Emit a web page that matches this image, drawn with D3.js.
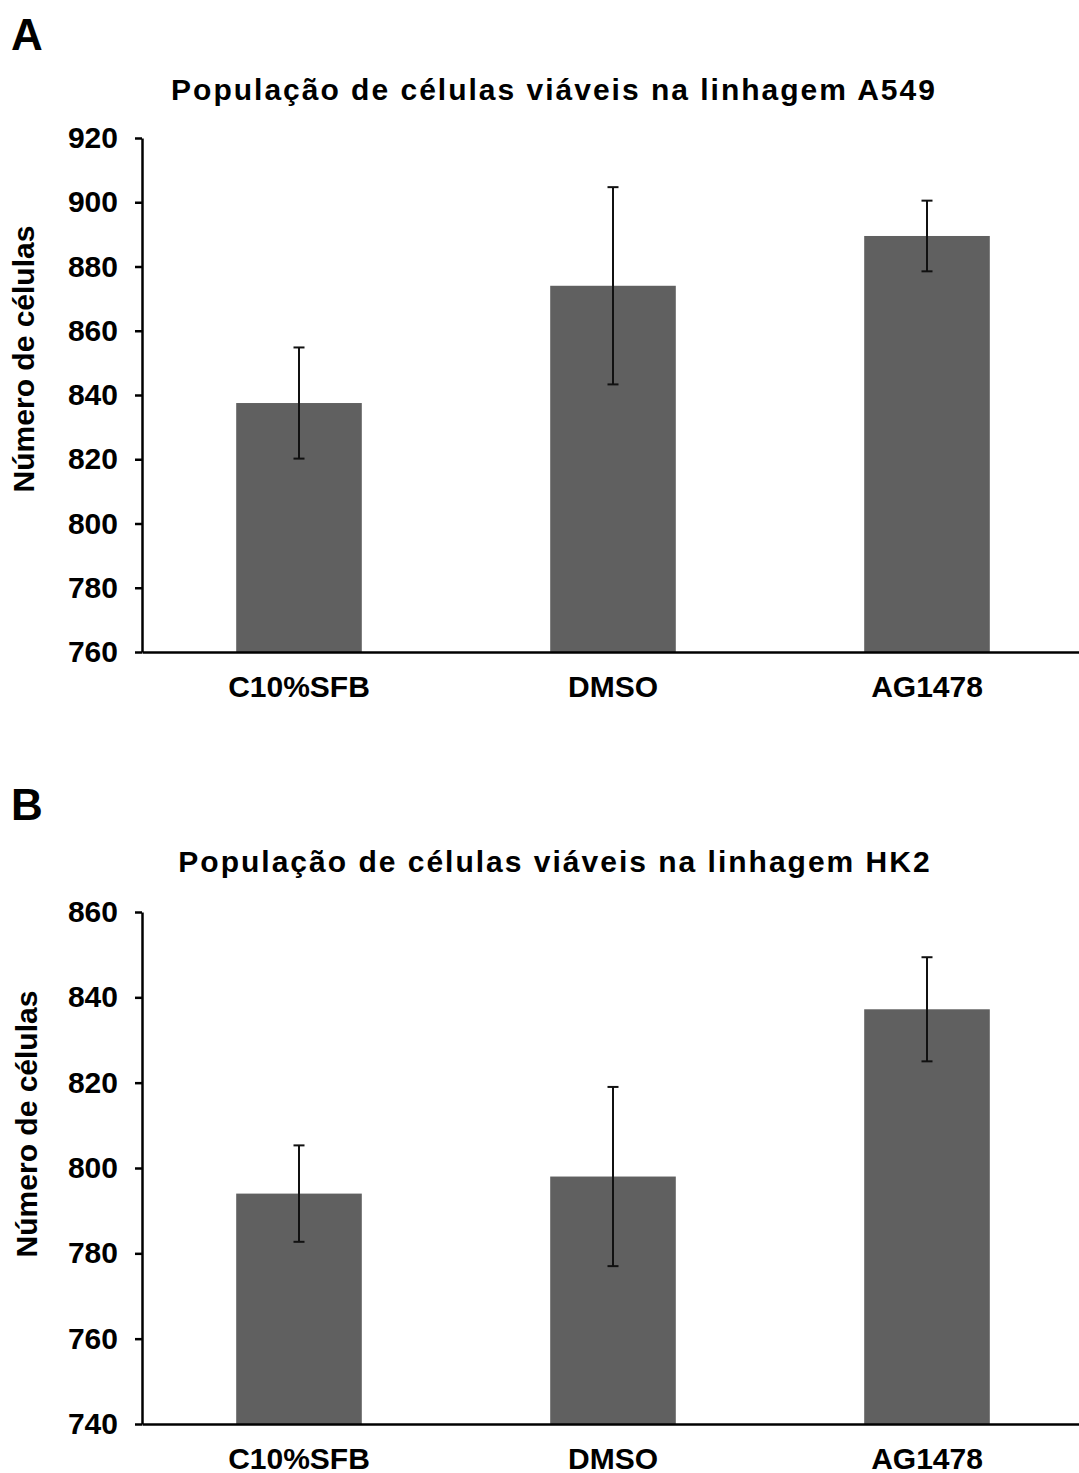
<!DOCTYPE html>
<html>
<head>
<meta charset="utf-8">
<script src="https://cdn.jsdelivr.net/npm/d3@7"></script>
<style>
  body { margin: 0; background: #fff; }
  svg { display: block; }
  text { font-family: "Liberation Sans", Arial, sans-serif; font-weight: bold; fill: #000; }
</style>
</head>
<body>
<div id="chart"></div>
<script>
// categories (same for both panels)
var categories = ["C10%SFB", "DMSO", "AG1478"];

// panel A - A549
var meansA = [837.5, 874, 889.5];
var errA = [17.3, 30.7, 11];
var ticksA = [760, 780, 800, 820, 840, 860, 880, 900, 920];

// panel B - HK2
var meansB = [794, 798, 837.2];
var errB = [11.3, 21, 12.2];
var ticksB = [740, 760, 780, 800, 820, 840, 860];

var W = 1079, H = 1473;

var svg = d3.select("#chart")
    .append("svg")
    .attr("width", W)
    .attr("height", H);

function drawPanel(opt) {
    var g = svg.append("g");

    var x = d3.scaleBand()
        .domain(categories)
        .range([142, 1084])
        .paddingInner(0.6)
        .paddingOuter(0.3);

    var y = d3.scaleLinear()
        .domain([opt.ticks[0], opt.ticks[opt.ticks.length - 1]])
        .range([opt.bottom, opt.top]);

    var rows = categories.map(function(c, i) {
        return { cat: c, mean: opt.means[i], err: opt.errs[i] };
    });

    // bars
    g.selectAll("rect.bar")
        .data(rows)
        .enter()
        .append("rect")
        .attr("class", "bar")
        .attr("x", function(d) { return x(d.cat); })
        .attr("width", x.bandwidth())
        .attr("y", function(d) { return y(d.mean); })
        .attr("height", function(d) { return y.range()[0] - y(d.mean); })
        .attr("fill", "#606060");

    // error bars
    var eb = g.selectAll("g.err")
        .data(rows)
        .enter()
        .append("g")
        .attr("class", "err")
        .attr("stroke", "#111")
        .attr("stroke-width", 2);
    eb.append("line")
        .attr("x1", function(d) { return x(d.cat) + x.bandwidth() / 2; })
        .attr("x2", function(d) { return x(d.cat) + x.bandwidth() / 2; })
        .attr("y1", function(d) { return y(d.mean + d.err); })
        .attr("y2", function(d) { return y(d.mean - d.err); });
    [1, -1].forEach(function(s) {
        eb.append("line")
            .attr("x1", function(d) { return x(d.cat) + x.bandwidth() / 2 - 5.5; })
            .attr("x2", function(d) { return x(d.cat) + x.bandwidth() / 2 + 5.5; })
            .attr("y1", function(d) { return y(d.mean + s * d.err); })
            .attr("y2", function(d) { return y(d.mean + s * d.err); });
    });

    // y axis
    var yAxis = g.append("g")
        .attr("transform", "translate(142,0)")
        .call(d3.axisLeft(y).tickValues(opt.ticks).tickSize(7).tickSizeOuter(0).tickPadding(17));
    yAxis.selectAll("path, line").attr("stroke", "#000").attr("stroke-width", 2.5);
    yAxis.selectAll("text").attr("font-size", 30).attr("font-family", null);

    // x axis
    var xAxis = g.append("g")
        .attr("transform", "translate(0," + opt.bottom + ")")
        .call(d3.axisBottom(x).tickSize(0).tickSizeOuter(0).tickPadding(24));
    xAxis.select("path").attr("stroke", "#000").attr("stroke-width", 2.5);
    xAxis.selectAll("text").attr("font-size", 30).attr("font-family", null);

    // y label
    g.append("text")
        .attr("transform", "translate(" + opt.ylabelX + "," + opt.ylabelY + ") rotate(-90)")
        .attr("text-anchor", "middle")
        .attr("font-size", 30)
        .text("Número de células");

    // title
    g.append("text")
        .attr("x", opt.titleX)
        .attr("y", opt.titleY)
        .attr("text-anchor", "middle")
        .attr("font-size", 30)
        .attr("letter-spacing", "2px")
        .text(opt.title);

    // panel letter
    g.append("text")
        .attr("x", 11)
        .attr("y", opt.letterY)
        .attr("font-size", 44)
        .text(opt.letter);
}

drawPanel({
    means: meansA, errs: errA, ticks: ticksA,
    top: 138, bottom: 652,
    title: "População de células viáveis na linhagem A549",
    titleX: 554, titleY: 100,
    letter: "A", letterY: 50, ylabelX: 34, ylabelY: 359
});

drawPanel({
    means: meansB, errs: errB, ticks: ticksB,
    top: 912, bottom: 1424,
    title: "População de células viáveis na linhagem HK2",
    titleX: 555, titleY: 872,
    letter: "B", letterY: 820, ylabelX: 37, ylabelY: 1124
});
</script>
</body>
</html>
